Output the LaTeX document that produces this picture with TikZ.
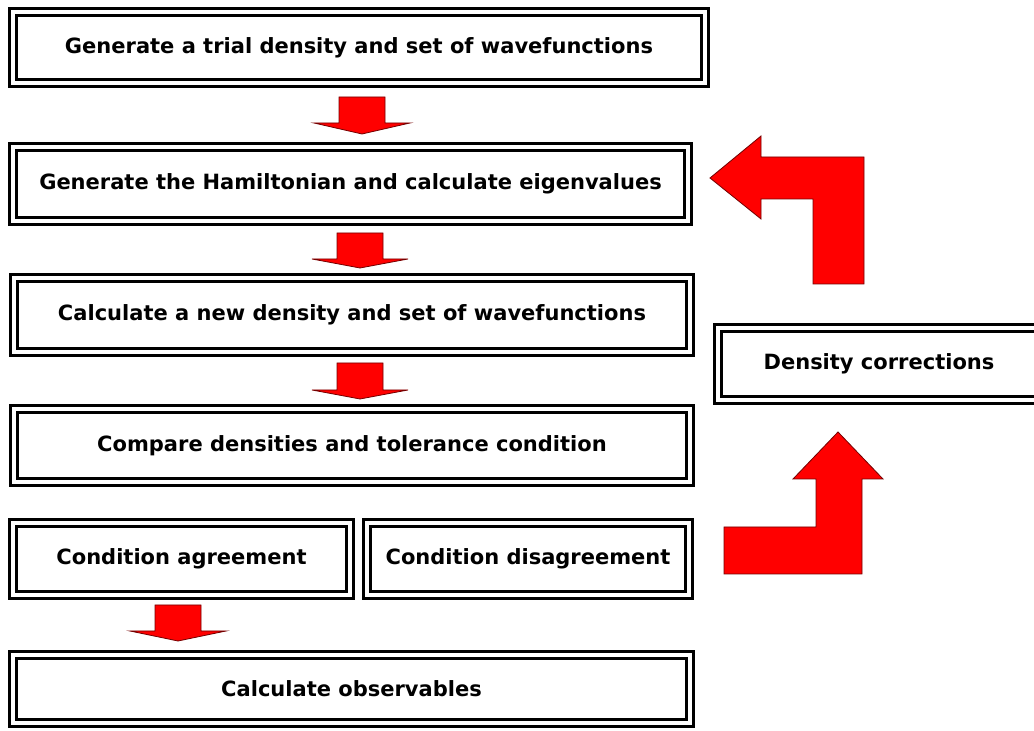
\documentclass[tikz,border=0pt]{standalone}
\usepackage{fontspec}
\setmainfont{DejaVu Sans}
\usepackage{tikz}

\begin{document}
\begin{tikzpicture}[x=0.5pt,y=-0.5pt,
	stage/.style={draw,double,line width=1.5pt,double distance=2pt,fill=white,inner sep=0pt,font=\fontsize{10.5}{12}\selectfont\bfseries},
	redblock/.style={fill=red,draw=red!45!black,line width=0.4pt}]

%fix page size
\useasboundingbox (0,0) rectangle (1034,731);

%draw stage boxes
\node[stage,minimum width=346pt,minimum height=35.5pt] (trial) at (359,47.5) {Generate a trial density and set of wavefunctions};
\node[stage,minimum width=337.5pt,minimum height=37pt] (hamilton) at (350.5,184) {Generate the Hamiltonian and calculate eigenvalues};
\node[stage,minimum width=338pt,minimum height=37pt] (newdens) at (352,315) {Calculate a new density and set of wavefunctions};
\node[stage,minimum width=338pt,minimum height=36.5pt] (compare) at (352,445.5) {Compare densities and tolerance condition};
\node[stage,minimum width=168.5pt,minimum height=36pt] (agree) at (181.5,559) {Condition agreement};
\node[stage,minimum width=161pt,minimum height=36pt] (disagree) at (528,559) {Condition disagreement};
\node[stage,minimum width=338.5pt,minimum height=34pt] (observe) at (351.5,689) {Calculate observables};
\node[stage,minimum width=161pt,minimum height=36pt] (correct) at (879,364) {Density corrections};

%draw small down arrows
\foreach \cx/\ya/\yb/\yc in {362/97/123/134, 360/233/259/268, 360/363/390/399, 178/605/631/641}
	{
	\filldraw[redblock] (\cx-23,\ya) -- (\cx+23,\ya) -- (\cx+23,\yb) -- (\cx+48,\yb) -- (\cx,\yc) -- (\cx-48,\yb) -- (\cx-23,\yb) -- cycle;
	}

%draw feedback arrows
\filldraw[redblock] (838,432) -- (883,479) -- (862,479) -- (862,574) -- (724,574) -- (724,527) -- (816,527) -- (816,479) -- (793,479) -- cycle;
\filldraw[redblock] (710,178) -- (761,136) -- (761,157) -- (864,157) -- (864,284) -- (813,284) -- (813,199) -- (761,199) -- (761,219) -- cycle;

\end{tikzpicture}
\end{document}
